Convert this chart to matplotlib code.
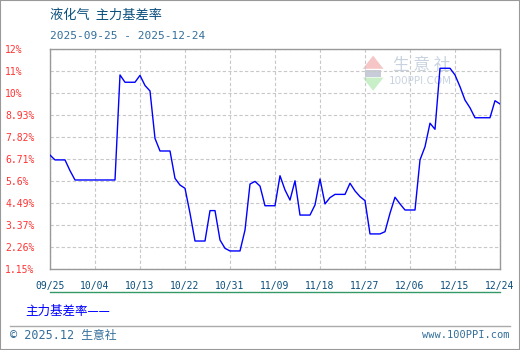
import matplotlib
matplotlib.use("Agg")
from matplotlib import pyplot as plt
import matplotlib.dates as mdates
import numpy as np
import pandas as pd

plt.rcParams['font.family'] = ['Noto Sans CJK SC', 'DejaVu Sans']

title = "液化气  主力基差率"
date_range_text = "2025-09-25 - 2025-12-24"
series_name = "主力基差率"

dates = pd.date_range("2025-09-25", "2025-12-24", freq="D")
basis_rate = [
    6.77, 6.53, 6.53, 6.53, 6.00, 5.54, 5.54, 5.54, 5.54, 5.54,
    5.54, 5.54, 5.54, 5.54, 10.72, 10.36, 10.36, 10.36, 10.70, 10.20,
    9.93, 7.59, 6.97, 6.97, 6.97, 5.62, 5.29, 5.13, 3.90, 2.53,
    2.53, 2.53, 4.03, 4.03, 2.58, 2.17, 2.04, 2.04, 2.04, 3.07,
    5.34, 5.47, 5.24, 4.27, 4.27, 4.27, 5.75, 5.05, 4.55, 5.50,
    3.81, 3.81, 3.81, 4.31, 5.59, 4.36, 4.67, 4.83, 4.83, 4.83,
    5.38, 5.00, 4.72, 4.52, 2.88, 2.88, 2.88, 2.99, 3.90, 4.69,
    4.36, 4.06, 4.06, 4.06, 6.53, 7.18, 8.34, 8.04, 11.05, 11.05,
    11.05, 10.72, 10.14, 9.48, 9.10, 8.61, 8.61, 8.61, 8.61, 9.45,
    9.29,
]
y_labels = ["1.15%", "2.26%", "3.37%", "4.49%", "5.6%", "6.71%",
            "7.82%", "8.93%", "10%", "11%", "12%"]
x_labels = ["09/25", "10/04", "10/13", "10/22", "10/31", "11/09",
            "11/18", "11/27", "12/06", "12/15", "12/24"]

W, H = 520, 350
fig = plt.figure(figsize=(W / 100, H / 100), dpi=100)
fig.patch.set_facecolor("white")

# axes box in pixels: x 50..500, y 49..269
ax = fig.add_axes([50 / W, (H - 269) / H, 450 / W, 220 / H])
ax.plot(dates, basis_rate, color="#0000ff", lw=1.0, zorder=3)

ax.set_ylim(1.15, 12)
ax.set_yticks(np.linspace(1.15, 12, len(y_labels)))
ax.set_yticklabels(y_labels)
ax.set_xlim(dates[0], dates[-1])
ax.set_xticks(dates[::9])
ax.set_xticklabels(x_labels)

ax.grid(True, color="#c8c8c8", linestyle=(0, (3, 2)), lw=0.8)
for s in ax.spines.values():
    s.set_color("#999999")
    s.set_linewidth(1.0)
ax.tick_params(length=0)
ax.tick_params(axis="y", pad=32.4, labelsize=7, labelcolor="#ff3333")
ax.tick_params(axis="x", pad=9, labelsize=7, labelcolor="#0b4f7c")
for lab in ax.get_yticklabels():
    lab.set_ha("left")
    lab.set_family(["DejaVu Sans Mono"])
for lab in ax.get_xticklabels():
    lab.set_family(["DejaVu Sans Mono"])

# watermark logo
ax.add_patch(plt.Polygon([[0.695, 0.91], [0.741, 0.91], [0.718, 0.97]],
                         closed=True, transform=ax.transAxes,
                         facecolor="#f6c6c6", edgecolor="none", zorder=1))
ax.add_patch(plt.Rectangle((0.700, 0.875), 0.036, 0.03,
                           transform=ax.transAxes, facecolor="#c8cbd8",
                           edgecolor="none", zorder=1))
ax.add_patch(plt.Polygon([[0.695, 0.87], [0.741, 0.87], [0.718, 0.81]],
                         closed=True, transform=ax.transAxes,
                         facecolor="#c8efc8", edgecolor="none", zorder=1))
ax.text(0.826, 0.925, "生 意 社", transform=ax.transAxes, fontsize=12,
        color="#c9d3e0", ha="center", va="center", zorder=1)
ax.text(0.822, 0.855, "100PPI.COM", transform=ax.transAxes, fontsize=7.5,
        color="#c9d3e0", ha="center", va="center", zorder=1,
        family=["DejaVu Sans"])

fig.text(50 / W, 1 - 15 / H, title, fontsize=9.5, color="#0b4f7c",
         va="center", ha="left")
fig.text(50 / W, 1 - 36 / H, date_range_text, fontsize=8, color="#336e9a",
         va="center", ha="left", family=["DejaVu Sans Mono"])

# green baseline under x labels
fig.add_artist(plt.Line2D([50 / W, 500 / W], [1 - 292 / H] * 2,
                          color="#339966", lw=1.0))
fig.text(25 / W, 1 - 311 / H, series_name + "——", fontsize=9,
         color="#0000ff", va="center", ha="left")
fig.add_artist(plt.Line2D([10 / W, 510 / W], [1 - 326 / H] * 2,
                          color="#aaaaaa", lw=1.0))
fig.text(10 / W, 1 - 335 / H, "© 2025.12 生意社", fontsize=8.5,
         color="#336e9a", va="center", ha="left",
         family=["DejaVu Sans Mono", "Noto Sans CJK SC"])
fig.text(510 / W, 1 - 335 / H, "www.100PPI.com", fontsize=7.5,
         color="#336e9a", va="center", ha="right",
         family=["DejaVu Sans Mono"])

# outer frame
fig.add_artist(plt.Rectangle((0, 0), 1, 1, transform=fig.transFigure,
                             fill=False, edgecolor="#999999", lw=1.5))

fig.savefig("out.png", dpi=100)
